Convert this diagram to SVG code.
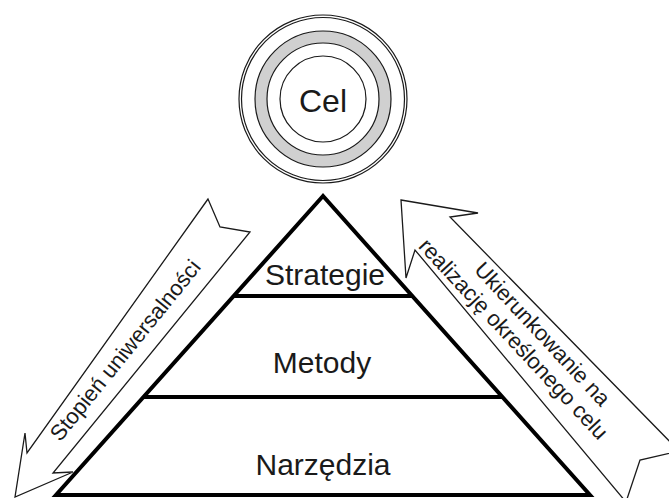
<svg xmlns="http://www.w3.org/2000/svg" width="669" height="498" viewBox="0 0 669 498">
  <style>
    .label { font-family: "Liberation Sans", Arial, sans-serif; fill: #1a1a1a; text-anchor: middle; }
    .tier { font-size: 30px; }
    .side { font-size: 22px; }
    .ring { fill: none; stroke: #1a1a1a; stroke-width: 1.2; }
    .arrow { fill: #ffffff; stroke: #1a1a1a; stroke-width: 1.3; stroke-linejoin: miter; }
    .edge { fill: none; stroke: #000000; stroke-width: 4; stroke-linejoin: miter; }
  </style>
  <rect width="669" height="498" fill="#ffffff"/>

  <!-- block arrows along the pyramid sides -->
  <g id="connectors">
    <g id="arrow-universality">
      <polygon class="arrow" points="208,199 27,453 25,433 15,497 73,472 53,473 250,232 220,227"/>
      <text class="label side" transform="translate(131,355) rotate(-51)">Stopień uniwersalności</text>
    </g>
    <g id="arrow-goal">
      <polygon class="arrow" points="401,200 478,213 450,217 679,451 640,460 626,502 415,250 406,278"/>
      <text class="label side" transform="translate(537,339) rotate(47)">Ukierunkowanie na</text>
      <text class="label side" transform="translate(508,344) rotate(47)">realizację określonego celu</text>
    </g>
  </g>

  <!-- goal target -->
  <g id="cel">
    <circle class="ring" cx="323" cy="99" r="84"/>
    <circle class="ring" cx="323" cy="99" r="81.5"/>
    <circle cx="323" cy="99" r="62" fill="none" stroke="#d0d0d0" stroke-width="12"/>
    <circle class="ring" cx="323" cy="99" r="68" stroke-width="1.5"/>
    <circle class="ring" cx="323" cy="99" r="56" stroke-width="1.5"/>
    <circle class="ring" cx="323" cy="99" r="43" stroke-width="1.5"/>
    <text class="label" x="323" y="112" font-size="32">Cel</text>
  </g>

  <!-- pyramid tiers -->
  <g id="pyramid">
    <polygon class="edge" points="323,196 56,495 590,495"/>
    <g id="strategie">
      <line class="edge" x1="234" y1="296" x2="412" y2="296"/>
      <text class="label tier" x="325" y="285">Strategie</text>
    </g>
    <g id="metody">
      <line class="edge" x1="144" y1="397" x2="502" y2="397"/>
      <text class="label tier" x="322" y="373">Metody</text>
    </g>
    <g id="narzedzia">
      <text class="label tier" x="323" y="475">Narzędzia</text>
    </g>
  </g>
</svg>
